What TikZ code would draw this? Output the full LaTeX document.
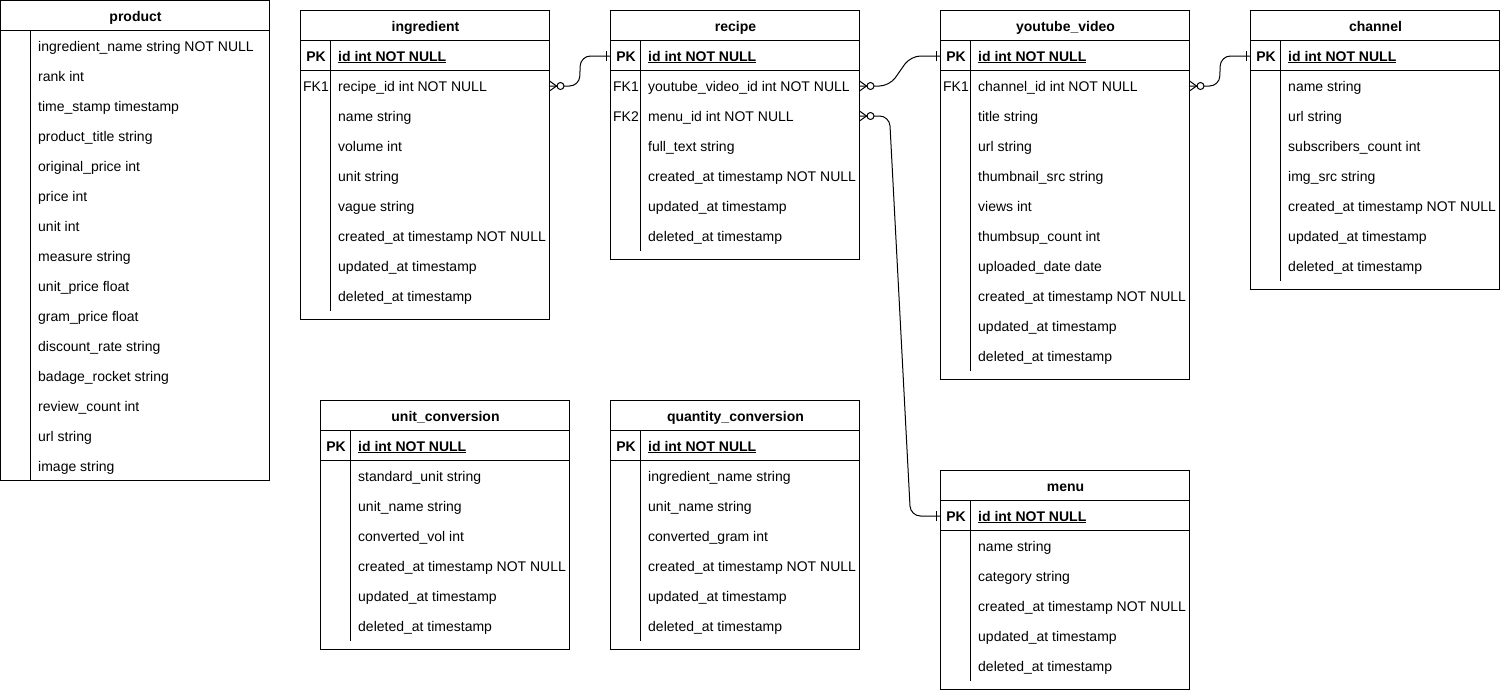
\documentclass[tikz,border=0pt]{standalone}
\usepackage{fontspec}
\setmainfont{Liberation Sans}
\tikzset{
  tbox/.style={draw, line width=1pt, inner sep=0pt, outer sep=0pt, fill=white},
  txt/.style={inner sep=0pt, text height=10pt, text depth=0pt, xshift=0.5pt, yshift=-0.5pt, font=\fontsize{14pt}{16pt}\selectfont},
  fld/.style={txt, anchor=west},
  ttl/.style={txt, font=\fontsize{14pt}{16pt}\selectfont\bfseries},
  keyb/.style={txt, font=\fontsize{14pt}{16pt}\selectfont\bfseries},
  keyn/.style={txt},
  conn/.style={line width=1pt, rounded corners=10pt},
}
\newcommand\ertbl[9]{%
  \begin{scope}[shift={(#2,#3)}]
    \node[tbox, minimum width=#4pt, minimum height=#5pt, anchor=north west] (#1) at (0,0) {};
    \node[ttl] (#1-title) at (#4/2,15) {#6};
    \draw[line width=1pt] (0,30) -- (#4,30);
    \ifnum#7=1
      \draw[line width=1pt] (0,60) -- (#4,60);
      \node[keyb] (#1-pkk) at (15,45) {PK};
      \node[fld] (#1-pk) at (37,45) {\underline{\textbf{id int NOT NULL}}};
      \def\erst{75}%
    \else
      \def\erst{45}%
    \fi
    \draw[line width=1pt] (30,30) -- (30,#9);
    \foreach \t [count=\i] in {#8} {\node[fld] (#1-r\i) at (37,\erst+30*\i-30) {\t};}
  \end{scope}}
\newcommand\zm[1]{\begin{scope}[shift={(#1)}]
  \draw[line width=1pt] (0,-5) -- (7,0) -- (0,5);
  \draw[line width=1pt, fill=white] (11,0) circle[radius=3.5pt];
  \end{scope}}
\newcommand\one[1]{\begin{scope}[shift={(#1)}]
  \draw[line width=1pt] (-4,-5) -- (-4,5);
  \end{scope}}
\begin{document}
\begin{tikzpicture}[x=1pt,y=-1pt]
\fill[white] (0,0) rectangle (1501,691);
\useasboundingbox (0,0) rectangle (1501,691);
\begin{scope}[shift={(-0.5,-0.5)}]

\ertbl{product}{1}{1}{269}{480}{product}{0}{ingredient\_name string NOT NULL, rank int, time\_stamp timestamp, product\_title string, original\_price int, price int, unit int, measure string, unit\_price float, gram\_price float, discount\_rate string, badage\_rocket string, review\_count int, url string, image string}{480}

\ertbl{ingredient}{301}{11}{249}{309}{ingredient}{1}{recipe\_id int NOT NULL, name string, volume int, unit string, vague string, created\_at timestamp NOT NULL, updated\_at timestamp, deleted\_at timestamp}{300}

\ertbl{recipe}{611}{11}{249}{249}{recipe}{1}{youtube\_video\_id int NOT NULL, menu\_id int NOT NULL, full\_text string, created\_at timestamp NOT NULL, updated\_at timestamp, deleted\_at timestamp}{240}

\ertbl{youtube}{941}{11}{249}{369}{youtube\_video}{1}{channel\_id int NOT NULL, title string, url string, thumbnail\_src string, views int, thumbsup\_count int, uploaded\_date date, created\_at timestamp NOT NULL, updated\_at timestamp, deleted\_at timestamp}{360}

\ertbl{channel}{1251}{11}{249}{279}{channel}{1}{name string, url string, subscribers\_count int, img\_src string, created\_at timestamp NOT NULL, updated\_at timestamp, deleted\_at timestamp}{270}

\ertbl{unitconv}{321}{401}{249}{249}{unit\_conversion}{1}{standard\_unit string, unit\_name string, converted\_vol int, created\_at timestamp NOT NULL, updated\_at timestamp, deleted\_at timestamp}{240}

\ertbl{qtyconv}{611}{401}{249}{249}{quantity\_conversion}{1}{ingredient\_name string, unit\_name string, converted\_gram int, created\_at timestamp NOT NULL, updated\_at timestamp, deleted\_at timestamp}{240}

\ertbl{menu}{941}{471}{249}{219}{menu}{1}{name string, category string, created\_at timestamp NOT NULL, updated\_at timestamp, deleted\_at timestamp}{210}

% foreign key labels
\node[keyn] (ingredient-k1) at (316,86) {FK1};
\node[keyn] (recipe-k1) at (626,86) {FK1};
\node[keyn] (recipe-k2) at (626,116) {FK2};
\node[keyn] (youtube-k1) at (956,86) {FK1};

% connectors
\coordinate (e1s) at (ingredient.east |- ingredient-r1.west);
\coordinate (e1t) at (recipe.west |- recipe-pk.west);
\draw[conn] (e1s) -- ++(30,0) -- ([xshift=-30pt]e1t) -- (e1t);

\coordinate (e2s) at (recipe.east |- recipe-r1.west);
\coordinate (e2t) at (youtube.west |- youtube-pk.west);
\draw[conn] (e2s) -- ++(30,0) -- ([xshift=-30pt]e2t) -- (e2t);

\coordinate (e3s) at (recipe.east |- recipe-r2.west);
\coordinate (e3t) at (menu.west |- menu-pk.west);
\draw[conn] (e3s) -- ++(30,0) -- ([xshift=-30pt]e3t) -- (e3t);

\coordinate (e4s) at (youtube.east |- youtube-r1.west);
\coordinate (e4t) at (channel.west |- channel-pk.west);
\draw[conn] (e4s) -- ++(30,0) -- ([xshift=-30pt]e4t) -- (e4t);

\zm{e1s}\zm{e2s}\zm{e3s}\zm{e4s}
\one{e1t}\one{e2t}\one{e3t}\one{e4t}
\end{scope}
\end{tikzpicture}
\end{document}
